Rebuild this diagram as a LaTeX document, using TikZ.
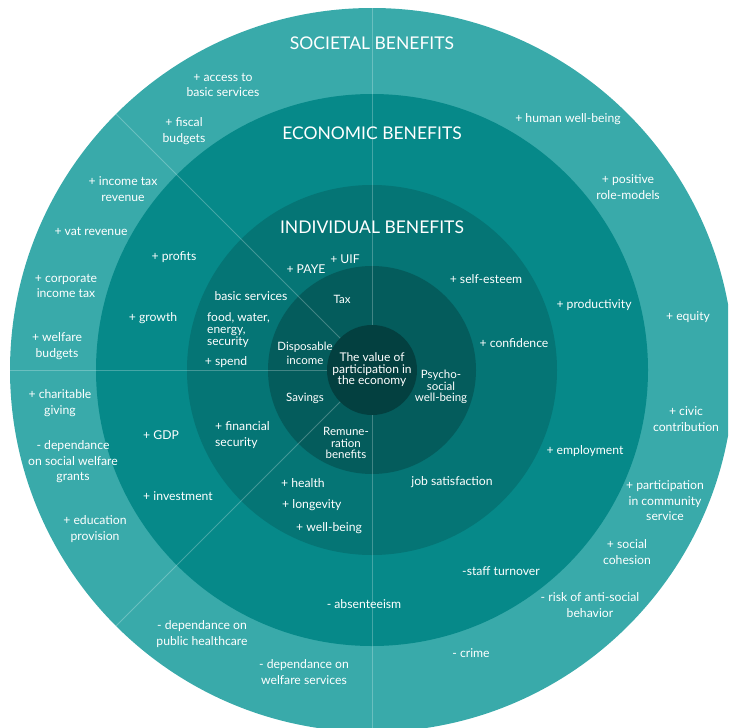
\documentclass[tikz,border=0pt]{standalone}
\usepackage{xcolor}
\usepackage{fontspec}
\setmainfont{Lato}
\usepackage{tikz}

\definecolor{ringsoc}{RGB}{57,170,170}
\definecolor{ringeco}{RGB}{6,137,137}
\definecolor{ringind}{RGB}{5,117,117}
\definecolor{ringinc}{RGB}{4,92,92}
\definecolor{ringcore}{RGB}{3,64,64}

\tikzset{
  title/.style={text=white, font=\fontsize{17.5}{20}\selectfont, inner sep=0pt},
  item/.style={text=white, font=\fontsize{12.2}{15.5}\selectfont, align=center, inner sep=0pt},
  itemleft/.style={item, align=left, anchor=west},
  small/.style={text=white, font=\fontsize{11.5}{11.5}\selectfont, align=center, inner sep=0pt},
  divider/.style={white, opacity=0.25, line width=1pt}
}

\begin{document}
\begin{tikzpicture}[x=1pt,y=-1pt]
  \useasboundingbox (0,0) rectangle (728,728);
  \clip (0,0) rectangle (728,728);
  \coordinate (c) at (372,370);

  \fill[ringsoc] (c) circle (362pt);
  \fill[ringeco] (c) circle (276pt);
  \fill[ringind] (c) circle (185pt);
  \fill[ringinc] (c) circle (104pt);
  \fill[ringcore] (c) circle (45pt);

  \foreach \a in {90,135,180,225,270}
    \draw[divider] ([shift={(\a:45pt)}]c) -- ([shift={(\a:362pt)}]c);

  \node[title] (soc) at (372,43) {SOCIETAL BENEFITS};
  \node[title] (eco) at (372,133) {ECONOMIC BENEFITS};
  \node[title] (ind) at (372,227) {INDIVIDUAL BENEFITS};

  \node[item] (access) at (223,85) {+ access to\\basic services};
  \node[item] (fiscal) at (184,131) {+ fiscal\\budgets};
  \node[item] (inctax) at (123,189) {+ income tax\\revenue};
  \node[item] (vat) at (91,231) {+ vat revenue};
  \node[item] (corp) at (66,286) {+ corporate\\income tax};
  \node[item] (welfare) at (57,346) {+ welfare\\budgets};
  \node[item] (charity) at (60,403) {+ charitable\\giving};
  \node[item] (grants) at (73,462) {- dependance\\on social welfare\\grants};
  \node[item] (educ) at (95,529) {+ education\\provision};
  \node[item] (health) at (202,634) {- dependance on\\public healthcare};
  \node[item] (services) at (304,672) {- dependance on\\welfare services};
  \node[item] (crime) at (471,653) {- crime};
  \node[item] (antisoc) at (590,605) {- risk of anti-social\\behavior};
  \node[item] (cohesion) at (627,552) {+ social\\cohesion};
  \node[item] (community) at (665,501) {+ participation\\in community\\service};
  \node[item] (civic) at (686,419) {+ civic\\contribution};
  \node[item] (equity) at (688,317) {+ equity};
  \node[item] (role) at (628,187) {+ positive\\role-models};
  \node[item] (human) at (568,119) {+ human well-being};

  \node[item] (profits) at (174,257) {+ profits};
  \node[item] (growth) at (153,318) {+ growth};
  \node[item] (gdp) at (161,435) {+ GDP};
  \node[item] (invest) at (178,496) {+ investment};
  \node[item] (absent) at (364,604) {- absenteeism};
  \node[item] (turnover) at (501,571) {-staff turnover};
  \node[item] (employ) at (585,451) {+ employment};
  \node[item] (product) at (594,305) {+ productivity};

  \node[item] (paye) at (306,269) {+ PAYE};
  \node[item] (uif) at (345,259) {+ UIF};
  \node[item] (basic) at (251,296) {basic services};
  \node[itemleft, font=\fontsize{12}{12}\selectfont] (food) at (207,330) {food, water,\\energy,\\security};
  \node[item] (spend) at (226,362) {+ spend};
  \node[itemleft] (finsec) at (215,435) {+ financial\\security};
  \node[itemleft] (wellh) at (281,483) {+ health};
  \node[itemleft] (longev) at (282,505) {+ longevity};
  \node[itemleft] (wellb) at (296,528) {+ well-being};
  \node[item] (jobsat) at (452,482) {job satisfaction};
  \node[item] (confid) at (514,343) {+ confidence};
  \node[item] (esteem) at (486,279) {+ self-esteem};

  \node[small] (tax) at (342,299) {Tax};
  \node[small, font=\fontsize{11.5}{14}\selectfont] (dispinc) at (305,353) {Disposable\\income};
  \node[small] (savings) at (305,398) {Savings};
  \node[small] (remun) at (346,443) {Remune-\\ration\\benefits};
  \node[small] (psycho) at (441,387) {Psycho-\\social\\well-being};
  \node[small, font=\fontsize{12}{11.5}\selectfont] (core) at (c) {The value of\\participation in\\the economy};
\end{tikzpicture}
\end{document}
